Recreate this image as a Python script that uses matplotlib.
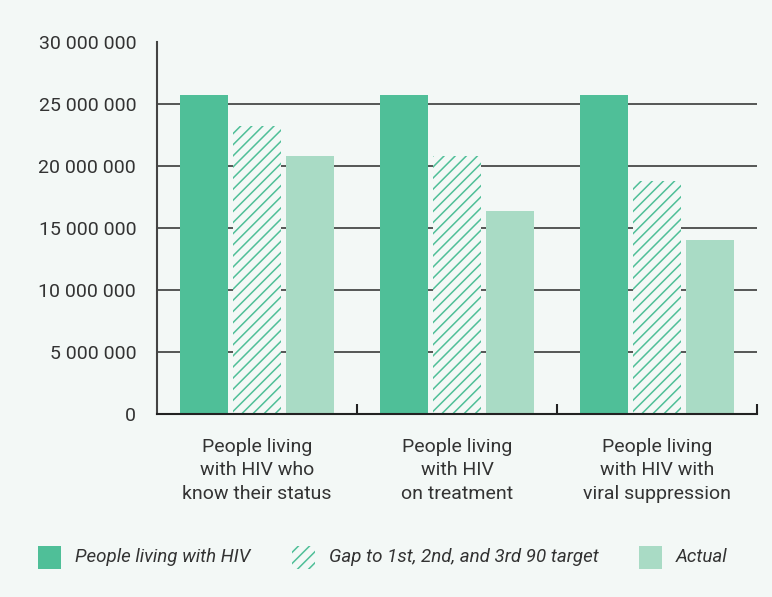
import numpy as np
import matplotlib
matplotlib.use('Agg')
import matplotlib.pyplot as plt
from matplotlib.patches import Rectangle

plt.rcParams['font.family'] = ['Roboto', 'DejaVu Sans']
plt.rcParams['hatch.linewidth'] = 1.1

categories = ['People living\nwith HIV who\nknow their status',
              'People living\nwith HIV\non treatment',
              'People living\nwith HIV with\nviral suppression']
plhiv  = [25700000, 25700000, 25700000]
target = [23200000, 20800000, 18800000]
actual = [20800000, 16400000, 14000000]
yticks = [0, 5000000, 10000000, 15000000, 20000000, 25000000, 30000000]
ytick_labels = ['0', '5 000 000', '10 000 000', '15 000 000', '20 000 000',
                '25 000 000', '30 000 000']
legend_labels = ['People living with HIV', 'Gap to 1st, 2nd, and 3rd 90 target', 'Actual']

BG = '#f3f8f6'
DARK = '#4fbf98'
LIGHT = '#a9dbc5'
TXT = '#333333'

fig = plt.figure(figsize=(7.72, 5.97), dpi=100, facecolor=BG)
ax = fig.add_axes([157/772, 1 - 414/597, 600/772, 372/597])
ax.set_facecolor(BG)

x = np.arange(len(categories))
w = 0.24
step = 0.265

for yv in yticks[1:-1]:
    ax.axhline(yv, color='#2a2a2a', lw=1.1, zorder=1)

ax.bar(x - step, plhiv, w, color=DARK, zorder=2)
ax.bar(x, target, w, facecolor=BG, edgecolor=DARK, hatch='///', lw=0, zorder=2)
ax.bar(x + step, actual, w, color=LIGHT, zorder=2)

ax.set_xlim(-0.5, 2.5)
ax.set_ylim(0, 30000000)
ax.set_yticks(yticks)
ax.set_yticklabels(ytick_labels, fontsize=14, color=TXT)
ax.tick_params(axis='y', length=0, pad=15)

# category labels sit between the group divider ticks
ax.set_xticks([0.5, 1.5, 2.5])
ax.set_xticklabels([])
ax.tick_params(axis='x', direction='in', length=7, width=1.5, color='#222222')
for xi, lab in zip(x, categories):
    ax.text(xi, -1950000, lab, ha='center', va='top', fontsize=14,
            color=TXT, linespacing=1.37)

for s in ['top', 'right']:
    ax.spines[s].set_visible(False)
ax.spines['left'].set_color('#444444')
ax.spines['left'].set_linewidth(1.5)
ax.spines['bottom'].set_color('#222222')
ax.spines['bottom'].set_linewidth(1.5)
ax.spines['bottom'].set_zorder(3)

# legend row under the chart
ly = 1 - 557/597
lh = 23/597
lw_ = 23/772
items = [(38, 75, 'solid', DARK), (292, 329, 'hatch', DARK), (639, 676, 'solid', LIGHT)]
for (px, tx, kind, col), lab in zip(items, legend_labels):
    if kind == 'solid':
        r = Rectangle((px/772, ly - lh/2), lw_, lh, transform=fig.transFigure,
                      facecolor=col, edgecolor='none')
    else:
        r = Rectangle((px/772, ly - lh/2), lw_, lh, transform=fig.transFigure,
                      facecolor=BG, edgecolor=col, hatch='///', lw=0)
    fig.patches.append(r)
    fig.text(tx/772, ly, lab, ha='left', va='center', fontsize=13.5,
             style='italic', color=TXT)

fig.savefig('out.png', dpi=100, facecolor=BG)
